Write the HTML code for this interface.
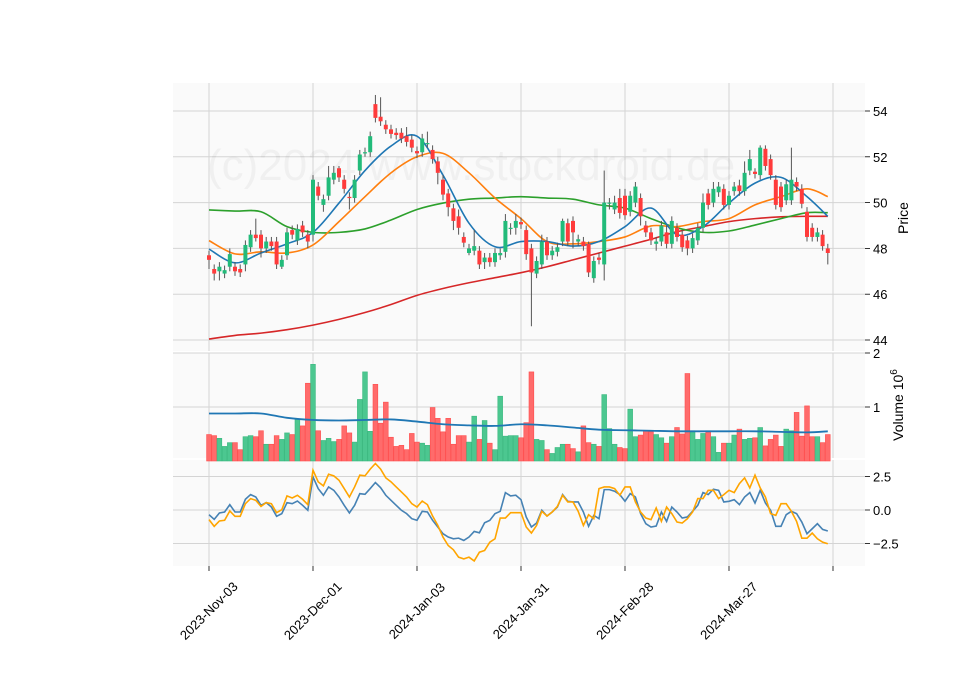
<!DOCTYPE html>
<html><head><meta charset="utf-8">
<style>
html,body{margin:0;padding:0;background:#fff;}
svg{display:block;font-family:"Liberation Sans",sans-serif;}
</style></head>
<body>
<svg id="chart" width="960" height="690" viewBox="0 0 960 690">
<rect x="173" y="83" width="692" height="268" fill="#fafafa"/>
<rect x="173" y="353" width="692" height="105" fill="#fafafa"/>
<rect x="173" y="460" width="692" height="106" fill="#fafafa"/>
<g id="grid"></g>
<text x="207" y="180" font-size="44" fill="rgba(0,0,0,0.04)">(c)2024 www.stockdroid.de</text>
<g id="marks"></g>
<g id="axes"></g>
<text transform="translate(908,218) rotate(-90)" font-size="14" text-anchor="middle" fill="#000">Price</text>
<text transform="translate(903,405) rotate(-90)" font-size="14" text-anchor="middle" fill="#000">Volume  10<tspan dy="-6" font-size="10">6</tspan></text>
</svg>
<script>
const dates = ["2023-Nov-03","2023-Dec-01","2024-Jan-03","2024-Jan-31","2024-Feb-28","2024-Mar-27"];
const priceTicks = [44,46,48,50,52,54];
const volTicks = [1,2];
const indTicks = [-2.5,0,2.5];
const opens = [47.7,47.1,47.0,46.9,47.2,47.2,47.1,47.3,48.05,48.6,48.6,48.0,48.3,48.3,47.2,47.7,48.8,48.35,49.0,48.6,
48.6,50.7,49.9,50.3,51.0,51.5,51.0,50.25,50.2,51.4,52.15,52.2,54.3,53.75,53.4,53.2,53.05,53.05,52.9,52.75,
52.25,52.2,52.55,52.3,51.8,51.0,50.4,49.75,49.4,48.5,47.8,47.9,47.9,47.4,47.6,47.4,47.7,47.85,48.85,48.9,
49.15,48.8,48.0,46.9,47.3,48.3,47.7,47.85,48.3,49.1,49.2,48.3,48.3,48.2,46.7,47.6,47.3,49.95,49.7,50.2,
50.3,49.6,50.0,50.2,49.0,48.7,48.2,48.3,48.7,48.2,48.9,48.6,48.35,48.0,48.35,48.9,50.4,50.0,50.45,50.6,
49.9,50.5,50.75,50.5,51.4,51.35,51.2,52.35,51.9,51.0,50.7,50.1,50.1,50.9,50.6,49.6,48.9,48.5,48.6,48.0];
const closes = [47.5,46.9,47.2,47.05,47.75,47.0,46.95,48.15,48.6,48.45,48.0,48.3,48.1,47.3,47.5,48.7,48.6,48.85,48.7,48.3,
51.0,50.3,50.15,51.1,51.3,51.1,50.6,50.2,51.0,52.1,52.2,52.9,53.7,53.55,53.2,53.0,52.95,52.8,52.65,52.4,
52.15,52.8,52.6,51.9,51.3,50.35,49.8,49.2,48.9,48.25,48.0,48.1,47.3,47.6,47.4,47.8,47.8,49.2,48.9,49.2,
49.05,47.75,46.95,47.45,48.3,47.7,47.9,48.05,49.2,48.3,48.7,48.4,48.1,46.95,47.45,47.5,50.0,50.0,50.0,49.55,
49.45,50.3,50.7,49.4,48.7,48.35,48.3,49.0,48.2,49.2,48.5,48.05,48.0,48.45,48.9,50.0,49.9,50.6,50.7,49.9,
50.3,50.7,50.5,51.3,51.9,51.25,52.4,51.6,51.2,49.9,49.8,50.8,51.0,50.7,49.95,48.5,48.5,48.7,48.1,47.8];
const highs = [47.9,47.3,47.4,47.25,48.0,47.4,47.3,48.35,48.8,49.3,48.8,48.5,48.5,48.5,47.7,48.9,49.0,49.05,49.2,48.8,
51.2,50.9,50.35,51.6,51.6,51.6,51.2,50.45,51.2,52.3,52.4,53.1,54.7,54.6,53.6,53.4,53.25,53.25,53.3,52.95,
52.45,53.0,53.1,52.5,52.0,51.2,50.6,49.95,49.7,48.7,48.2,48.8,48.1,47.8,47.8,48.0,48.0,49.5,49.1,49.5,
49.35,49.0,48.2,47.65,48.6,48.5,48.1,48.25,49.3,49.3,49.4,48.6,48.5,48.3,47.65,47.8,51.4,50.2,50.3,50.6,
50.6,50.5,50.9,50.4,49.2,48.9,48.5,49.2,49.0,49.4,49.1,48.8,48.55,48.65,49.1,50.4,50.6,50.9,50.9,50.8,
50.5,50.9,51.0,51.8,52.3,51.5,52.5,52.5,52.1,51.2,50.9,51.0,52.4,51.1,50.8,49.8,49.1,48.9,48.8,48.2];
const lows = [47.1,46.6,46.6,46.7,47.0,46.8,46.75,47.0,47.85,48.3,47.6,47.8,47.9,47.1,47.1,47.5,48.4,48.15,48.5,48.0,
48.3,50.1,49.6,50.1,50.8,50.9,50.4,49.7,50.0,51.2,52.0,52.0,53.5,53.35,53.0,52.8,52.75,52.6,52.45,52.2,
51.95,52.0,52.4,51.7,50.8,50.1,49.4,48.8,48.6,48.05,47.7,47.7,47.1,47.1,47.2,47.2,47.5,47.6,48.6,48.6,
48.85,47.5,44.6,46.7,47.1,47.5,47.5,47.65,48.1,48.1,48.0,48.1,47.9,46.75,46.5,47.3,46.6,49.7,49.5,49.3,
49.25,49.4,49.8,49.0,48.5,48.15,47.9,48.1,48.0,48.0,48.3,47.85,47.7,47.8,48.15,48.7,49.7,49.8,50.25,49.7,
49.7,50.3,50.3,50.3,51.2,51.05,51.0,51.4,51.0,49.7,49.6,49.9,49.9,50.5,49.75,48.3,48.3,48.3,47.9,47.3];
const volumes = [0.49,0.47,0.42,0.27,0.34,0.34,0.21,0.45,0.47,0.45,0.56,0.31,0.31,0.47,0.40,0.52,0.49,0.77,0.65,1.44,
1.79,0.56,0.38,0.42,0.36,0.40,0.65,0.52,0.35,1.14,1.65,0.55,1.42,0.70,1.09,0.44,0.27,0.29,0.21,0.51,
0.35,0.33,0.29,0.99,0.79,0.54,0.79,0.31,0.47,0.47,0.35,0.83,0.40,0.75,0.33,0.21,1.20,0.46,0.47,0.47,
0.43,0.71,1.65,0.40,0.38,0.21,0.14,0.25,0.31,0.31,0.23,0.17,0.65,0.34,0.31,0.27,1.23,0.60,0.31,0.25,
0.23,0.96,0.45,0.48,0.56,0.54,0.49,0.43,0.33,0.45,0.62,0.50,1.62,0.56,0.40,0.51,0.56,0.45,0.16,0.33,
0.33,0.48,0.59,0.40,0.42,0.43,0.62,0.28,0.40,0.48,0.27,0.59,0.56,0.90,0.46,1.02,0.45,0.45,0.34,0.49];
const maIdx = [0,5,10,15,20,25,30,35,40,45,50,55,60,65,70,75,80,85,90,95,100,105,110,115,119];
const maFast = [47.97,47.37,47.8,48.2,48.7,49.98,51.4,52.47,52.9,51.2,49.1,48.07,48.3,48.3,48.1,48.3,48.95,49.76,48.6,48.95,49.98,50.85,51.1,50.26,49.4];
const maMid = [48.34,47.76,47.85,47.8,48.15,49.17,50.26,51.3,52.0,52.15,51.3,50.2,49.3,48.3,48.2,48.3,48.5,48.98,48.95,49.17,49.3,49.9,50.26,50.6,50.26];
const maSlow = [49.68,49.63,49.6,48.95,48.7,48.7,48.85,49.24,49.7,49.98,50.15,50.2,50.26,50.2,50.15,49.9,49.76,49.3,48.9,48.7,48.76,49.02,49.3,49.56,49.56];
const maLong = [44.04,44.2,44.3,44.45,44.65,44.9,45.2,45.55,45.95,46.25,46.5,46.72,46.94,47.2,47.5,47.8,48.1,48.4,48.73,48.95,49.17,49.3,49.38,49.4,49.4];
const volMa = [0.88,0.88,0.88,0.80,0.76,0.75,0.76,0.77,0.73,0.68,0.66,0.65,0.68,0.66,0.62,0.58,0.57,0.56,0.55,0.55,0.55,0.55,0.54,0.53,0.55];
const indBlue = [-0.35,-0.7,-0.22,-0.15,0.4,-0.15,-0.15,0.8,1.15,0.97,0.35,0.55,0.22,-0.47,-0.27,0.55,0.47,0.67,0.35,-0.02,
2.47,1.6,1.1,1.72,1.47,0.97,0.35,-0.22,0.35,1.22,1.17,1.6,2.05,1.67,1.1,0.72,0.35,-0.02,-0.27,-0.65,
-0.77,-0.1,-0.15,-0.77,-1.27,-1.77,-2.02,-2.15,-2.1,-2.27,-2.02,-1.6,-1.7,-0.95,-0.77,-0.27,-0.1,1.3,1.05,1.1,
0.77,-0.52,-1.27,-0.97,-0.02,-0.45,-0.15,0.22,1.15,0.65,0.6,0.6,-0.15,-1.22,-0.4,-0.65,1.52,1.52,1.4,1.15,
0.65,1.22,0.97,-0.27,-1.02,-1.27,-1.2,-0.15,-0.85,0.22,-0.15,-0.6,-0.52,-0.1,0.35,1.3,1.15,1.55,1.47,0.6,
0.65,0.77,0.4,0.97,1.3,0.52,1.47,0.52,-0.02,-1.22,-1.22,-0.35,-0.1,-0.27,-0.9,-1.77,-1.4,-1.02,-1.45,-1.57];
const indOrange = [-0.72,-1.22,-0.82,-0.77,-0.07,-0.47,-0.47,0.47,0.85,0.72,0.27,0.55,0.47,-0.2,0.02,1.05,0.9,1.1,0.8,0.4,
2.97,2.1,1.8,2.67,2.55,2.22,1.6,0.97,1.72,2.6,2.55,3.05,3.47,3.05,2.4,2.1,1.72,1.35,0.97,0.47,
0.22,0.67,0.4,-0.45,-1.15,-2.02,-2.65,-2.97,-3.52,-3.65,-3.52,-3.8,-3.15,-3.02,-2.4,-2.15,-0.6,-0.6,-0.2,-0.2,
-0.2,-1.27,-1.72,-1.15,-0.1,-0.45,-0.15,0.27,1.1,0.6,0.6,-0.1,-1.15,-0.35,-0.65,1.6,1.72,1.72,1.6,1.1,
1.72,1.72,0.6,-0.15,-0.6,-0.72,0.15,-0.85,0.22,-0.27,-0.9,-0.97,-0.65,-0.15,0.85,0.85,1.47,1.47,0.85,1.15,
1.47,1.3,1.97,2.4,1.65,2.6,1.65,0.97,-0.27,-0.4,0.47,0.47,-0.1,-0.85,-2.1,-2.1,-1.72,-2.15,-2.4,-2.52];

const NS = "http://www.w3.org/2000/svg";
const X = i => 209 + 5.2 * i;
const YP = p => 111 + (54 - p) * 22.9;
const YV = v => 461 - v * 54;
const YI = v => 510 - v * 13.4;
function mk(parent, tag, attrs) {
  const e = document.createElementNS(NS, tag);
  for (const k in attrs) e.setAttribute(k, attrs[k]);
  parent.appendChild(e);
  return e;
}
const grid = document.getElementById('grid');
const marks = document.getElementById('marks');
const axes = document.getElementById('axes');

for (let k = 0; k <= 6; k++) {
  const x = X(k * 20);
  for (const [a, b] of [[83, 351], [353, 458], [460, 566]]) {
    const l = mk(grid, 'line', {x1: x, x2: x, y1: a, y2: b, stroke: '#d4d4d4', 'stroke-width': 1});
    
    
  }
  const t = mk(axes, 'line', {x1: x, x2: x, y1: 566, y2: 571, stroke: '#000', 'stroke-width': 0.8});
  
  
  if (k < dates.length) {
    const lb = mk(axes, 'text', {x: 0, y: 0, 'font-size': 13, 'text-anchor': 'middle', transform: `translate(${x + 3},${614}) rotate(-45)`});
    lb.textContent = dates[k];
    
    
  }
}
function yTicks(vals, fy, fmt) {
  vals.forEach(v => {
    const y = fy(v);
    const g = mk(grid, 'line', {x1: 173, x2: 865, y1: y, y2: y, stroke: '#d4d4d4', 'stroke-width': 1});
    
    
    const t = mk(axes, 'line', {x1: 865, x2: 870, y1: y, y2: y, stroke: '#000', 'stroke-width': 0.8});
    
    
    const lb = mk(axes, 'text', {x: 873, y: y + 5, 'font-size': 13});
    lb.textContent = fmt(v);
    
    
  });
}
yTicks(priceTicks, YP, v => String(v));
yTicks(volTicks, YV, v => String(v));
yTicks(indTicks, YI, v => v.toFixed(1).replace('-', '−'));

volumes.forEach((v, i) => {
  const up = closes[i] >= opens[i];
  const r = mk(marks, 'rect', {x: X(i) - 2.4, y: YV(v), width: 4.8, height: 461 - YV(v),
    fill: up ? '#4cc790' : '#ff6b6b', stroke: up ? '#3ab87f' : '#ff4d4d', 'stroke-width': 0.6});
  
  
});

function smoothPath(idx, vals, fy) {
  const p = idx.map((i, k) => [X(i), fy(vals[k])]);
  let d = `M${p[0][0]},${p[0][1]}`;
  for (let k = 0; k < p.length - 1; k++) {
    const p0 = p[k - 1] || p[k], p1 = p[k], p2 = p[k + 1], p3 = p[k + 2] || p2;
    const c1 = [p1[0] + (p2[0] - p0[0]) / 6, p1[1] + (p2[1] - p0[1]) / 6];
    const c2 = [p2[0] - (p3[0] - p1[0]) / 6, p2[1] - (p3[1] - p1[1]) / 6];
    d += ` C${c1[0]},${c1[1]} ${c2[0]},${c2[1]} ${p2[0]},${p2[1]}`;
  }
  return d;
}
function linePath(vals, fy) {
  return vals.map((v, i) => (i ? 'L' : 'M') + X(i) + ',' + fy(v)).join(' ');
}
const vm = mk(marks, 'path', {d: smoothPath(maIdx, volMa, YV), fill: 'none', stroke: '#1f77b4', 'stroke-width': 1.8});



[[maLong, '#d62728', 'ma-long-line'], [maSlow, '#2ca02c', 'ma-slow-line'], [maMid, '#ff7f0e', 'ma-mid-line'], [maFast, '#1f77b4', 'ma-fast-line']].forEach(([arr, c, n]) => {
  const p = mk(marks, 'path', {d: smoothPath(maIdx, arr, YP), fill: 'none', stroke: c, 'stroke-width': 1.6});
  
  
});

opens.forEach((o, i) => {
  const c = closes[i];
  const up = c >= o;
  const w = mk(marks, 'line', {x1: X(i), x2: X(i), y1: YP(highs[i]), y2: YP(lows[i]), stroke: '#555', 'stroke-width': 1});
  
  
  const top = YP(Math.max(o, c)), bot = YP(Math.min(o, c));
  const b = mk(marks, 'rect', {x: X(i) - 2, y: top, width: 4, height: Math.max(1.2, bot - top), fill: up ? '#22bb7a' : '#ff3b3b'});
  
  
});

const ib = mk(marks, 'path', {d: linePath(indBlue, YI), fill: 'none', stroke: '#4682b4', 'stroke-width': 1.6});


const io = mk(marks, 'path', {d: linePath(indOrange, YI), fill: 'none', stroke: '#ffa500', 'stroke-width': 1.6});


</script>
</body></html>
